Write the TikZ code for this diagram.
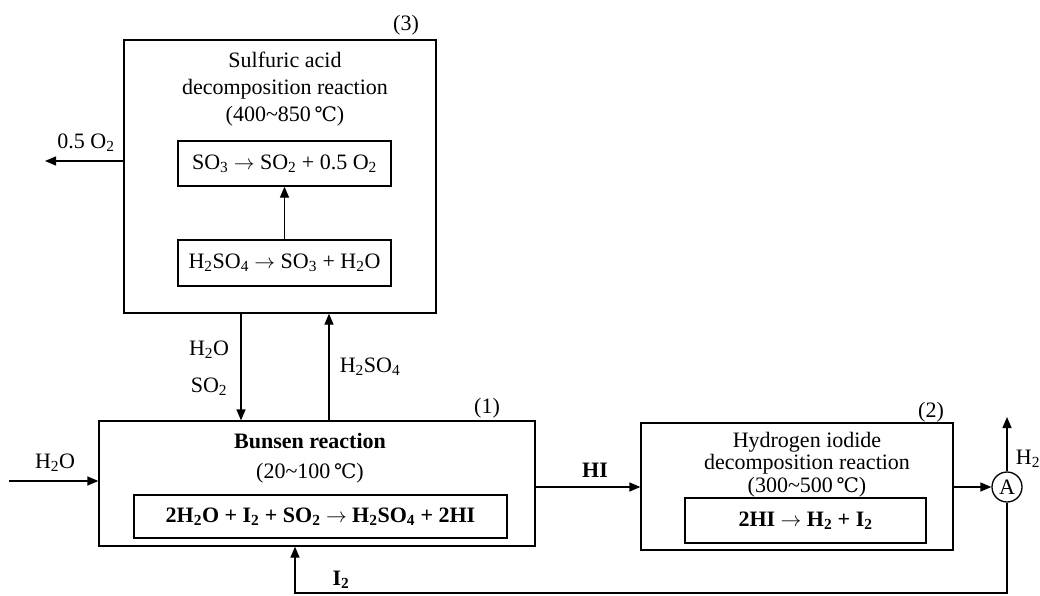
\documentclass[tikz,border=0pt]{standalone}
\usepackage{fontspec}
\setmainfont{Liberation Serif}
\newfontfamily\degfont{DejaVu Serif}
\usetikzlibrary{arrows.meta}
\newcommand\dg{\,{\degfont\fontsize{20}{20}\selectfont ℃}}
\newcommand\ra{$\rightarrow$}
\newcommand\sbs[1]{\textsubscript{#1}}
\begin{document}
\begin{tikzpicture}[x=1pt,y=-1pt,
  every node/.style={font=\fontsize{22}{27}\selectfont, inner sep=0pt},
  box/.style={draw, line width=1.3pt, rectangle},
  arr/.style={line width=1.3pt, -{Triangle[length=11pt,width=9pt]}},
  ln/.style={line width=1.3pt}]
\useasboundingbox (0,0) rectangle (1040,596);
% big boxes
\node[box, minimum width=312pt, minimum height=273pt] (box3) at (280,176.5) {};
\node[box, minimum width=436pt, minimum height=125pt] (box1) at (317,483.5) {};
\node[box, minimum width=312pt, minimum height=127pt] (box2) at (797,486.5) {};
% inner boxes
\node[box, minimum width=213pt, minimum height=45pt] (r3a) at (284.5,163.5) {SO\sbs{3} \ra{} SO\sbs{2} + 0.5 O\sbs{2}};
\node[box, minimum width=213pt, minimum height=46pt] (r3b) at (284.5,263) {H\sbs{2}SO\sbs{4} \ra{} SO\sbs{3} + H\sbs{2}O};
\node[box, minimum width=373pt, minimum height=43pt] (r1) at (320.5,516.5) {\bfseries 2H\sbs{2}O + I\sbs{2} + SO\sbs{2} \ra{} H\sbs{2}SO\sbs{4} + 2HI};
\node[box, minimum width=241pt, minimum height=45pt] (r2) at (805.5,520.5) {\bfseries 2HI \ra{} H\sbs{2} + I\sbs{2}};
% titles
\node[align=center] (t3) at (285,89) {Sulfuric acid\\decomposition reaction\\(400\textasciitilde 850\dg)};
\node[align=center] (t1) at (310,458) {\bfseries Bunsen reaction\\[3pt](20\textasciitilde 100\dg)};
\node[align=center, font=\fontsize{22}{22.5}\selectfont] (t2) at (807,464.5) {Hydrogen iodide\\decomposition reaction\\(300\textasciitilde 500\dg)};
% numbers
\node (n3) at (406,25) {(3)};
\node (n1) at (487,408) {(1)};
\node (n2) at (931,412) {(2)};
% circle A
\node[draw, circle, line width=1.3pt, minimum size=30pt] (A) at (1007,487) {A};
% coordinates
\coordinate (o2out) at (45,161);
\coordinate (dnx) at (241,0);
\coordinate (upx) at (329,0);
\coordinate (h2oin) at (9,481);
\coordinate (hiy) at (0,487);
\coordinate (h2top) at (1007,417);
\coordinate (retR) at (1007,593);
\coordinate (retL) at (295,593);
% connectors
\draw[arr] (box3.west |- o2out) -- (o2out);
\draw[arr] (r3b.north) -- (r3a.south);
\draw[arr] (box3.south -| dnx) -- (box1.north -| dnx);
\draw[arr] (box1.north -| upx) -- (box3.south -| upx);
\draw[arr] (h2oin) -- (box1.west |- h2oin);
\draw[arr] (box1.east |- hiy) -- (box2.west |- hiy);
\draw[arr] (box2.east |- A) -- (A.west);
\draw[arr] (A.north) -- (h2top);
\draw[arr] (A.south) -- (retR) -- (retL) -- (box1.south -| retL);
% labels
\node (lo2) at (86,143) {0.5 O\sbs{2}};
\node (lh2oa) at (209,350) {H\sbs{2}O};
\node (lso2) at (209,387) {SO\sbs{2}};
\node (lh2so4) at (370,367) {H\sbs{2}SO\sbs{4}};
\node (lh2oin) at (55,463) {H\sbs{2}O};
\node (lhi) at (595,470) {\bfseries HI};
\node (lh2) at (1028,459) {H\sbs{2}};
\node (li2) at (341,580) {\bfseries I\sbs{2}};
\end{tikzpicture}
\end{document}
